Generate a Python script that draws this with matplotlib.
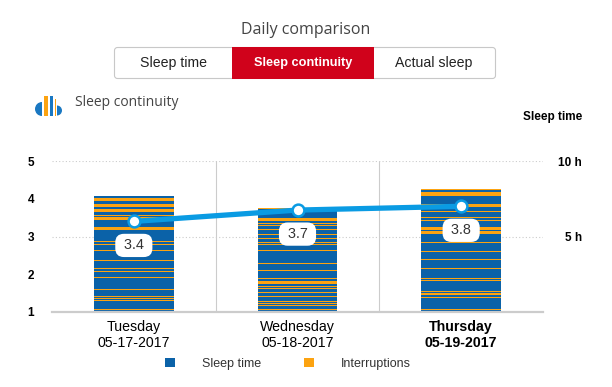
import matplotlib
matplotlib.use("Agg")
import matplotlib.pyplot as plt
from matplotlib.patches import Rectangle, FancyBboxPatch, Wedge, Patch

plt.rcParams['font.family'] = ['Liberation Sans', 'DejaVu Sans']

days = ['Tuesday\n05-17-2017', 'Wednesday\n05-18-2017', 'Thursday\n05-19-2017']
continuity = [3.4, 3.7, 3.8]
sleep_hours = [7.68, 6.9, 8.15]

# interruptions, centre of each stripe in hours from the bottom of the bar
stripes_tue = [7.44, 7.04, 6.80, 6.69, 6.40, 6.18, 5.56, 4.68, 4.48, 4.06, 3.42, 2.89, 2.69, 2.30, 1.50, 1.02, 0.88, 0.75, 0.18]
stripes_wed = [6.84, 6.11, 5.85, 5.72, 5.45, 5.14, 4.86, 4.61, 4.48, 4.08, 3.22, 2.76, 2.23, 1.98, 1.70, 1.57, 1.30, 1.04, 0.68, 0.55, 0.42, 0.15]
stripes_thu = [8.10, 7.90, 7.75, 7.11, 7.02, 6.64, 6.25, 6.07, 5.54, 5.28, 4.61, 4.02, 3.49, 2.89, 2.21, 2.08, 1.35, 1.19, 0.97, 0.18]
# the ones drawn thicker in the picture
thick_stripes = [7.44, 7.04, 6.18, 5.56, 6.11, 1.98, 7.75, 5.54, 5.28]

BLUE = '#0b62a8'
ORANGE = '#fca311'
LINE = '#0a9be3'
RED = '#d0021b'
ICON = '#1a78c2'
W, H = 612, 387

fig = plt.figure(figsize=(W / 100, H / 100), dpi=100)

# page furniture in pixel coordinates
bg = fig.add_axes([0, 0, 1, 1])
bg.set_xlim(0, W)
bg.set_ylim(H, 0)
bg.axis('off')

bg.text(306, 30, 'Daily comparison', ha='center', va='center', fontsize=11.5, color='#444444', family=['Open Sans', 'DejaVu Sans'])

bg.add_patch(FancyBboxPatch((114.5, 47.5), 381, 31, boxstyle='round,pad=0,rounding_size=3', fc='white', ec='#c8c8c8', lw=0.8))
bg.add_patch(Rectangle((232, 47), 142, 32, fc=RED, ec='none'))
bg.text(173, 63, 'Sleep time', ha='center', va='center', fontsize=10.2, color='#222222')
bg.text(303, 63, 'Sleep continuity', ha='center', va='center', fontsize=9.2, color='white', weight='bold')
bg.text(434, 63, 'Actual sleep', ha='center', va='center', fontsize=10.2, color='#222222')

# icon
bg.add_patch(Wedge((42, 109), 7, 90, 270, fc=ICON, ec='none'))
bg.add_patch(Rectangle((44, 96), 4, 20, fc=ORANGE, ec='none'))
bg.add_patch(Rectangle((50, 96), 3, 20, fc=ICON, ec='none'))
bg.add_patch(Rectangle((55, 99), 1, 17, fc=ORANGE, ec='none'))
bg.add_patch(Wedge((57, 110.5), 5, -90, 90, fc=ICON, ec='none'))

bg.text(75, 102, 'Sleep continuity', ha='left', va='center', fontsize=10, color='#444444', family=['Open Sans', 'DejaVu Sans'])
bg.text(582, 117, 'Sleep time', ha='right', va='center', fontsize=8.5, weight='bold', color='black')

# chart area: 52..543 px wide, value 1 at 312 px, value 5 at 161 px
ax = fig.add_axes([52 / W, 1 - 312 / H, 491 / W, 151 / H])
ax_h = ax.twinx()
ax.set_zorder(ax_h.get_zorder() + 1)
ax.patch.set_visible(False)
ax_h.patch.set_visible(False)

x = list(range(len(days)))
bar_w = 0.485

ax.set_xlim(-0.5, 2.5)
ax.set_ylim(1, 5)
ax_h.set_ylim(0, 10)

ax_h.hlines([5, 10], -0.5, 2.5, color='#cccccc', lw=0.8, linestyles=(0, (1, 2)), zorder=1)
ax_h.vlines([0.5, 1.5], 0, 10, color='#cccccc', lw=0.8, zorder=1)
ax_h.bar(x, sleep_hours, width=bar_w, color=BLUE, zorder=2)

for i, stripes in enumerate([stripes_tue, stripes_wed, stripes_thu]):
    for s in stripes:
        t = 0.2 if s in thick_stripes else 0.1
        ax_h.bar(x[i], t, bottom=s - t / 2, width=bar_w, color=ORANGE, zorder=3)

ax.plot(x, continuity, color=LINE, lw=3.8, marker='o', ms=8.5, mfc='white', mec=LINE, mew=1.8, solid_capstyle='round', zorder=5)
for xi, v in zip(x, continuity):
    ax.annotate(f' {v} ', (xi, v), xytext=(0, -17.3), textcoords='offset points', ha='center', va='center',
                fontsize=10.4, color='#333333', zorder=6,
                bbox=dict(boxstyle='round,pad=0.32,rounding_size=0.6', fc='white', ec='none'))

for a in (ax, ax_h):
    for side in ('top', 'left', 'right', 'bottom'):
        a.spines[side].set_visible(False)
ax_h.spines['bottom'].set_visible(True)
ax_h.spines['bottom'].set_color('#cccccc')
ax_h.spines['bottom'].set_linewidth(1.6)

ax.set_xticks(x)
ax.set_xticklabels(days, fontsize=10.2, color='black', linespacing=1.15)
ax.get_xticklabels()[2].set_fontweight('bold')
ax.tick_params(axis='x', length=0, pad=6)
ax.set_yticks([1, 2, 3, 4, 5])
ax.set_yticklabels(['1', '2', '3', '4', '5'], fontsize=8.5, weight='bold')
ax.tick_params(axis='y', length=0, pad=13)
ax_h.set_yticks([5, 10])
ax_h.set_yticklabels(['5 h', '10 h'], fontsize=8.5, weight='bold', ha='right')
ax_h.tick_params(axis='y', length=0, pad=28)

handles = [Patch(fc=BLUE, label='Sleep time'), Patch(fc=ORANGE, label='Interruptions')]
fig.legend(handles=handles, ncols=2, frameon=False, loc='center', bbox_to_anchor=(288 / W, 1 - 364 / H),
           fontsize=9, labelcolor='#333333', handlelength=0.75, handleheight=0.75,
           handletextpad=2.16, columnspacing=3.5)

fig.savefig('out.png', dpi=100)
